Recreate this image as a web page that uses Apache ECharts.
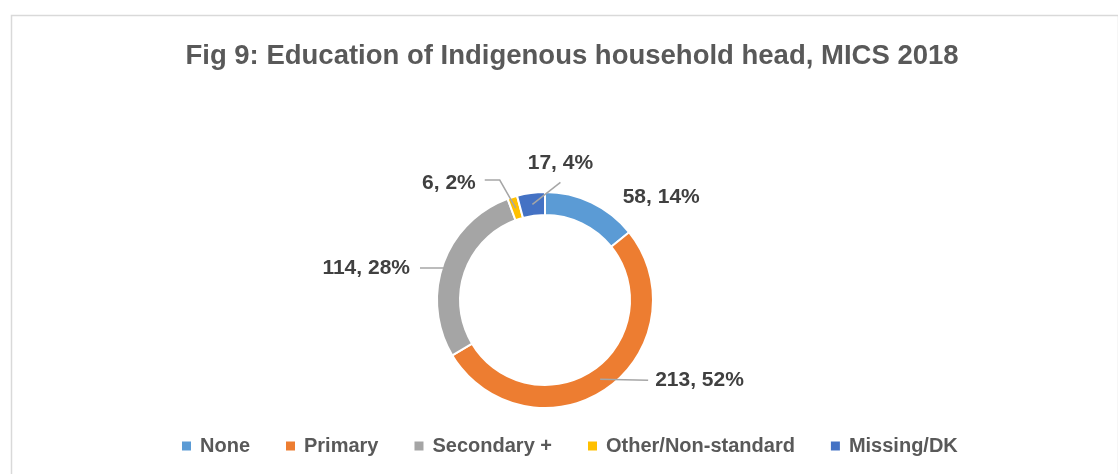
<!DOCTYPE html>
<html>
<head>
<meta charset="utf-8">
<script src="https://cdn.jsdelivr.net/npm/echarts@6/dist/echarts.min.js"></script>
<style>
html,body{margin:0;padding:0;background:#fff;}
#chart{width:1118px;height:474px;}
</style>
</head>
<body>
<div id="chart"></div>
<script>
// ---- data ----
const categories = ['None', 'Primary', 'Secondary +', 'Other/Non-standard', 'Missing/DK'];
const counts = [58, 213, 114, 6, 17];
const percentLabels = [14, 52, 28, 2, 4];

// ---- styles / layout ----
const colors = ['#5B9BD5', '#ED7D31', '#A5A5A5', '#FFC000', '#4472C4'];
const CX = 545, CY = 300, R_IN = 85, R_OUT = 108;
const FONT = 'Liberation Sans';
const total = counts.reduce((a, b) => a + b, 0);

function anchorOf(i) {
  let before = 0;
  for (let k = 0; k < i; k++) before += counts[k];
  const mid = (before + counts[i] / 2) / total * 2 * Math.PI;
  const r = (R_IN + R_OUT) / 2;
  return [CX + r * Math.sin(mid), CY - r * Math.cos(mid)];
}
// label offsets relative to the slice anchor (Excel-like placement)
const placement = [
  { label: [36, -16], align: 'left', line: null },
  { label: [55, 1], align: 'left', line: [[48, 1]] },
  { label: [-44, 0], align: 'right', line: [[-34, 0]] },
  { label: [-40, -25], align: 'right', line: [[-16, -28], [-31, -28]] },
  { label: [28, -41], align: 'center', line: [[28, -22]] }
];

const baseSeries = {
  type: 'pie',
  center: [CX, CY],
  radius: [R_IN, R_OUT],
  startAngle: 90,
  clockwise: true,
  avoidLabelOverlap: false,
  emphasis: { disabled: true }
};

const chart = echarts.init(document.getElementById('chart'), null, { renderer: 'canvas' });
chart.setOption({
  animation: false,
  backgroundColor: '#ffffff',
  graphic: [{
    type: 'rect',
    left: 9, top: 13,
    shape: { width: 1107, height: 470 },
    style: { fill: 'none', stroke: '#D9D9D9', lineWidth: 1.5 },
    silent: true
  }],
  title: {
    text: 'Fig 9: Education of Indigenous household head, MICS 2018',
    left: 572, top: 42, padding: 0,
    textAlign: 'center',
    textStyle: { fontFamily: FONT, fontSize: 27.5, fontWeight: 'bold', color: '#595959' }
  },
  legend: {
    data: categories,
    left: 182, top: 436, padding: 0,
    icon: 'rect', itemWidth: 9, itemHeight: 9, itemGap: 36,
    itemStyle: { borderWidth: 0 },
    textStyle: { fontFamily: FONT, fontSize: 20, fontWeight: 'bold', color: '#595959', padding: [0, 0, 0, 4] }
  },
  series: [
    Object.assign({}, baseSeries, {
      name: 'ring',
      z: 2,
      itemStyle: { borderColor: '#ffffff', borderWidth: 2 },
      label: { show: false },
      labelLine: { show: false },
      data: categories.map((name, i) => ({
        name: name,
        value: counts[i],
        itemStyle: { color: colors[i] }
      }))
    }),
    // transparent overlay carrying the data labels so leader lines sit above the ring
    Object.assign({}, baseSeries, {
      name: 'labels',
      z: 3,
      silent: true,
      itemStyle: { color: 'rgba(0,0,0,0)', borderWidth: 0 },
      label: {
        show: true,
        position: 'outside',
        fontFamily: FONT, fontSize: 21, fontWeight: 'bold', color: '#404040',
        formatter: p => counts[p.dataIndex] + ', ' + percentLabels[p.dataIndex] + '%'
      },
      labelLine: { show: true, showAbove: true, lineStyle: { color: '#A6A6A6', width: 1.5, opacity: 1 } },
      labelLayout: function (params) {
        const i = params.dataIndex;
        const a = anchorOf(i);
        const pl = placement[i];
        const out = {
          x: a[0] + pl.label[0],
          y: a[1] + pl.label[1],
          align: pl.align,
          verticalAlign: 'middle'
        };
        if (pl.line) {
          out.labelLinePoints = [a].concat(pl.line.map(o => [a[0] + o[0], a[1] + o[1]]));
        }
        return out;
      },
      data: categories.map((name, i) => ({
        name: name,
        value: counts[i],
        labelLine: { show: placement[i].line !== null }
      }))
    })
  ]
});
</script>
</body>
</html>
